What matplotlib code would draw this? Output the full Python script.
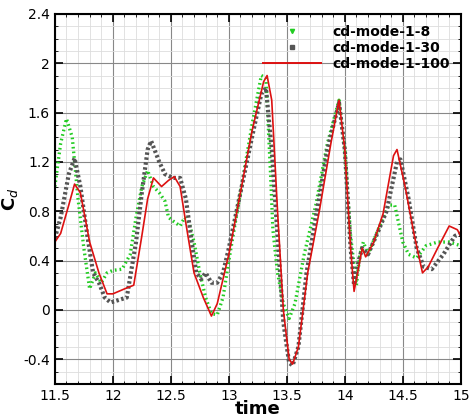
import matplotlib
matplotlib.use("Agg")
import matplotlib.pyplot as plt
from matplotlib.lines import Line2D
from matplotlib.ticker import MultipleLocator

# cd-mode-1-8
t8 = [11.5, 11.55, 11.6, 11.65, 11.7, 11.75, 11.8, 11.85, 11.9, 11.95, 12.0, 12.08, 12.15, 12.2, 12.25,
      12.3, 12.35, 12.4, 12.45, 12.48, 12.52, 12.58, 12.62, 12.66, 12.7, 12.75, 12.8, 12.85, 12.9,
      12.95, 13.0, 13.1, 13.2, 13.28, 13.32, 13.36, 13.38, 13.42, 13.47, 13.52, 13.57, 13.65, 13.75,
      13.85, 13.95, 14.0, 14.05, 14.1, 14.13, 14.16, 14.2, 14.3, 14.38, 14.43, 14.5, 14.55, 14.62,
      14.7, 14.8, 14.9, 15.0]
cd8 = [1.0, 1.35, 1.55, 1.4, 0.9, 0.5, 0.17, 0.3, 0.22, 0.3, 0.32, 0.33, 0.45, 0.75, 1.0,
       1.13, 1.0, 0.95, 0.88, 0.75, 0.72, 0.68, 0.75, 0.7, 0.55, 0.3, 0.1, -0.03, -0.04,
       0.1, 0.4, 0.95, 1.5, 1.9, 1.88, 1.1, 0.65, 0.3, 0.05, -0.07, 0.05, 0.45, 0.85,
       1.35, 1.7, 1.3, 0.6, 0.2, 0.45, 0.55, 0.45, 0.68, 0.85, 0.85, 0.55, 0.45, 0.42,
       0.52, 0.55, 0.55, 0.52]

# cd-mode-1-30
t30 = [11.5, 11.55, 11.62, 11.67, 11.72, 11.78, 11.83, 11.88, 11.93, 11.98, 12.05, 12.12, 12.2, 12.25,
       12.3, 12.33, 12.4, 12.45, 12.52, 12.58, 12.63, 12.68, 12.72, 12.76, 12.8, 12.85, 12.9, 12.95,
       13.0, 13.1, 13.2, 13.28, 13.32, 13.37, 13.42, 13.47, 13.52, 13.55, 13.6, 13.67, 13.75, 13.85,
       13.95, 14.0, 14.05, 14.08, 14.12, 14.15, 14.2, 14.28, 14.36, 14.45, 14.48, 14.55, 14.62, 14.68,
       14.75, 14.85, 14.95, 15.0]
cd30 = [0.58, 0.75, 1.1, 1.23, 1.0, 0.6, 0.3, 0.22, 0.1, 0.06, 0.08, 0.1, 0.55, 0.95,
        1.3, 1.37, 1.2, 1.1, 1.07, 1.07, 0.9, 0.55, 0.3, 0.25, 0.3, 0.22, 0.22, 0.3,
        0.5, 0.95, 1.4, 1.75, 1.8, 1.3, 0.6, -0.1, -0.43, -0.45, -0.3, 0.3, 0.75, 1.3,
        1.68, 1.3, 0.5, 0.2, 0.4, 0.5, 0.45, 0.62, 0.8, 1.2, 1.22, 0.9, 0.5, 0.35,
        0.33, 0.45, 0.6, 0.62]

# cd-mode-1-100
t100 = [11.5, 11.55, 11.62, 11.67, 11.72, 11.8, 11.88, 11.95, 12.0, 12.1, 12.18, 12.25, 12.3, 12.35,
        12.42, 12.48, 12.53, 12.58, 12.63, 12.7, 12.78, 12.85, 12.9, 13.0, 13.1, 13.2, 13.3, 13.33,
        13.37, 13.42, 13.47, 13.52, 13.55, 13.6, 13.68, 13.78, 13.88, 13.95, 14.0, 14.05, 14.08, 14.12,
        14.15, 14.18, 14.25, 14.33, 14.42, 14.45, 14.52, 14.6, 14.67, 14.72, 14.8, 14.9, 14.97, 15.0]
cd100 = [0.55, 0.62, 0.85, 1.02, 0.95, 0.55, 0.3, 0.13, 0.13, 0.17, 0.2, 0.6, 0.9, 1.07,
         1.0, 1.05, 1.08, 1.0, 0.7, 0.3, 0.1, -0.05, 0.05, 0.45, 0.95, 1.45, 1.85, 1.9,
         1.7, 0.8, 0.0, -0.4, -0.44, -0.3, 0.3, 0.8, 1.35, 1.7, 1.3, 0.5, 0.15, 0.35,
         0.5, 0.43, 0.55, 0.78, 1.25, 1.3, 1.0, 0.6, 0.3, 0.35, 0.5, 0.68, 0.65, 0.6]

GREEN, GRAY, RED = '#22cc22', '#555555', '#dd1111'

fig = plt.figure(figsize=(4.77, 4.2), dpi=100)
ax = fig.add_axes([0.115, 0.086, 0.851, 0.881])

ax.plot(t8, cd8, color=GREEN, linestyle=(0, (0.5, 0.9)), linewidth=2.4)
ax.plot(t30, cd30, color=GRAY, linestyle=(0, (0.6, 0.6)), linewidth=3.0)
ax.plot(t100, cd100, color=RED, linewidth=1.2)

ax.set_xlim(11.5, 15)
ax.set_ylim(-0.6, 2.4)
ax.xaxis.set_major_locator(MultipleLocator(0.5))
ax.xaxis.set_minor_locator(MultipleLocator(0.1))
ax.yaxis.set_major_locator(MultipleLocator(0.4))
ax.yaxis.set_minor_locator(MultipleLocator(0.1))
ax.set_xticklabels([f"{v:g}" for v in ax.get_xticks()])
ax.set_yticklabels([f"{v:g}" for v in ax.get_yticks()])
ax.grid(which='major', color='#888888', linewidth=0.8)
ax.grid(which='minor', color='#dddddd', linewidth=0.6)
ax.tick_params(which='both', direction='in', top=True, right=True, labelsize=10)
ax.tick_params(which='major', length=6, width=1.2)
for s in ax.spines.values():
    s.set_linewidth(1.5)

ax.set_xlabel('time', fontsize=13, fontweight='bold', labelpad=-2)
ax.set_ylabel('C$_d$', fontsize=13, fontweight='bold', labelpad=2)

handles = [
    Line2D([], [], color=GREEN, marker='v', markersize=3, linestyle='none'),
    Line2D([], [], color=GRAY, marker='s', markersize=3, linestyle='none'),
    Line2D([], [], color=RED, linewidth=1.4),
]
labels = ['cd-mode-1-8', 'cd-mode-1-30', 'cd-mode-1-100']
ax.legend(handles, labels, loc='upper right', frameon=False, prop={'weight': 'bold', 'size': 10},
          handlelength=4.2, borderaxespad=0.4, labelspacing=0.15)

fig.savefig('out.png', dpi=100)
